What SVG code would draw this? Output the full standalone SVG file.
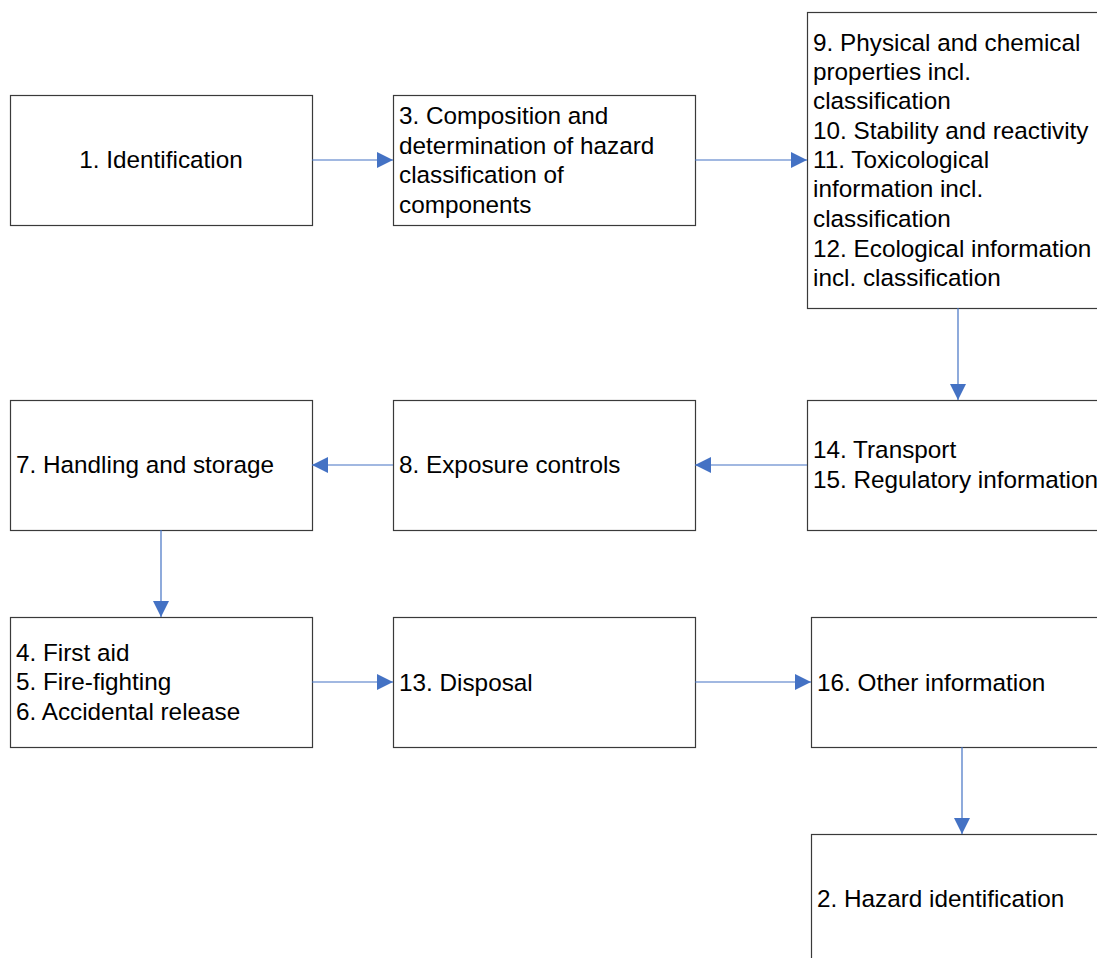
<svg xmlns="http://www.w3.org/2000/svg" width="1097" height="958" viewBox="0 0 1097 958">
<defs>
<style>
.box{fill:#fff;stroke:#3a3a3a;stroke-width:1.2}
.t{font-family:"Liberation Sans",Arial,sans-serif;font-size:24.3px;fill:#000}
.c{fill:none;stroke:#4472c4;stroke-width:1.2}
</style>
<marker id="ah" markerWidth="16" markerHeight="16" refX="16" refY="8" orient="auto" markerUnits="userSpaceOnUse">
<path d="M0,0 L16,8 L0,16 Z" fill="#4472c4"/>
</marker>
</defs>
<rect width="1097" height="958" fill="#fff"/>
<g id="n1"><rect class="box" x="10.5" y="95.5" width="302" height="130"/><text class="t" x="161" y="168" text-anchor="middle">1. Identification</text></g>
<g id="n3"><rect class="box" x="393.5" y="95.5" width="302" height="130"/><text class="t" x="399"><tspan x="399" y="124">3. Composition and</tspan><tspan x="399" y="154">determination of hazard</tspan><tspan x="399" y="183">classification of</tspan><tspan x="399" y="213">components</tspan></text></g>
<g id="n9"><rect class="box" x="807.5" y="12.5" width="302" height="296"/><text class="t"><tspan x="813" y="51">9. Physical and chemical</tspan><tspan x="813" y="80">properties incl.</tspan><tspan x="813" y="109">classification</tspan><tspan x="813" y="139">10. Stability and reactivity</tspan><tspan x="813" y="168">11. Toxicological</tspan><tspan x="813" y="197">information incl.</tspan><tspan x="813" y="227">classification</tspan><tspan x="813" y="257">12. Ecological information</tspan><tspan x="813" y="286">incl. classification</tspan></text></g>
<g id="n14"><rect class="box" x="807.5" y="400.5" width="302" height="130"/><text class="t"><tspan x="813" y="458">14. Transport</tspan><tspan x="813" y="488">15. Regulatory information</tspan></text></g>
<g id="n8"><rect class="box" x="393.5" y="400.5" width="302" height="130"/><text class="t" x="399" y="473">8. Exposure controls</text></g>
<g id="n7"><rect class="box" x="10.5" y="400.5" width="302" height="130"/><text class="t" x="16" y="473">7. Handling and storage</text></g>
<g id="n4"><rect class="box" x="10.5" y="617.5" width="302" height="130"/><text class="t"><tspan x="16" y="661">4. First aid</tspan><tspan x="16" y="690">5. Fire-fighting</tspan><tspan x="16" y="720">6. Accidental release</tspan></text></g>
<g id="n13"><rect class="box" x="393.5" y="617.5" width="302" height="130"/><text class="t" x="399" y="691">13. Disposal</text></g>
<g id="n16"><rect class="box" x="811.5" y="617.5" width="302" height="130"/><text class="t" x="817" y="691">16. Other information</text></g>
<g id="n2"><rect class="box" x="811.5" y="834.5" width="302" height="130"/><text class="t" x="817" y="907">2. Hazard identification</text></g>
<g id="connectors">
<line class="c" x1="312" y1="160" x2="393" y2="160" marker-end="url(#ah)"/>
<line class="c" x1="695" y1="160" x2="807" y2="160" marker-end="url(#ah)"/>
<line class="c" x1="958" y1="308" x2="958" y2="400" marker-end="url(#ah)"/>
<line class="c" x1="807" y1="465" x2="695" y2="465" marker-end="url(#ah)"/>
<line class="c" x1="393" y1="465" x2="312" y2="465" marker-end="url(#ah)"/>
<line class="c" x1="161" y1="530" x2="161" y2="617" marker-end="url(#ah)"/>
<line class="c" x1="312" y1="682" x2="393" y2="682" marker-end="url(#ah)"/>
<line class="c" x1="695" y1="682" x2="811" y2="682" marker-end="url(#ah)"/>
<line class="c" x1="962" y1="747" x2="962" y2="834" marker-end="url(#ah)"/>
</g>
</svg>
